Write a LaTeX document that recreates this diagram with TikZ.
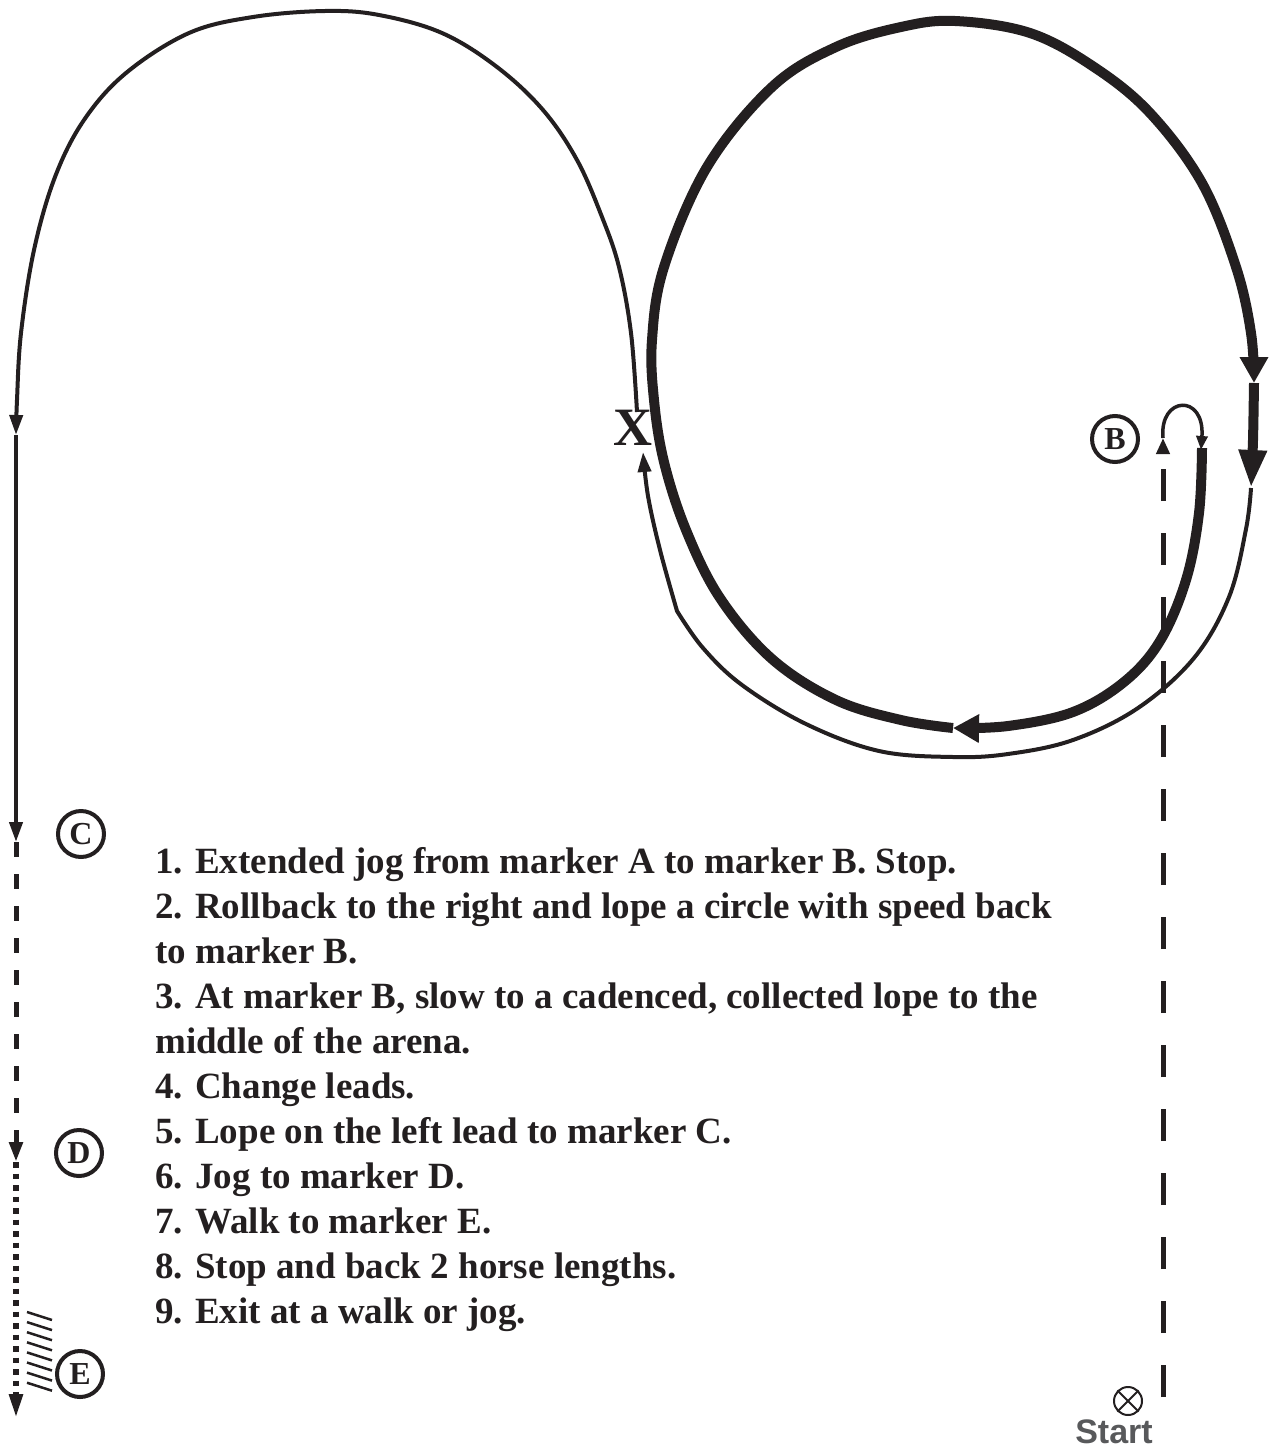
\documentclass[tikz,border=0pt]{standalone}
\usepackage{fontspec}
\setmainfont{Liberation Serif}
\setsansfont{Liberation Sans}
\usetikzlibrary{arrows.meta}
\definecolor{ink}{RGB}{35,31,32}
\definecolor{startgray}{RGB}{88,89,91}
\begin{document}
\begin{tikzpicture}[x=1pt,y=-1pt,
  thinpath/.style={draw=ink, line width=4pt, line join=round},
  thickpath/.style={draw=ink, line width=10pt, line join=round},
  smalltip/.style={-{Triangle[length=20pt,width=13pt]}},
  bigtip/.style={-{Triangle[length=26pt,width=27pt]}},
  longtip/.style={-{Triangle[length=38pt,width=26pt]}},
  markerring/.style={circle, draw=ink, line width=4pt, minimum size=46pt, inner sep=0pt, text=ink, font=\fontsize{32}{32}\selectfont\bfseries},
  stepline/.style={anchor=base west, inner sep=0pt, text=ink, font=\fontsize{37}{45}\selectfont\bfseries}
]
\useasboundingbox (0,0) rectangle (1274,1448);

% ---- markers and labels
\node[markerring] (B) at (1115,439) {B};
\node[markerring] (C) at (81,834) {C};
\node[markerring] (D) at (79,1153) {D};
\node[markerring] (E) at (80,1374) {E};
\node[font=\fontsize{54}{54}\selectfont\bfseries, text=ink, inner sep=0pt] (X) at (633,428) {X};

% ---- named points
\coordinate (startend) at (1163,1397);
\coordinate (rbA) at (1163,438);
\coordinate (rbB) at (1201,450);
\coordinate (xtop) at (637,412);
\coordinate (xbot) at (643,452);
\coordinate (turnL) at (16,435);
\coordinate (atC) at (16,842);
\coordinate (atD) at (16,1162);
\coordinate (atE) at (16,1418);

% ---- 1. extended jog from start to B (dashed)
\draw[draw=ink, line width=5pt, dash pattern=on 32pt off 32pt,
      -{Triangle[length=16pt,width=13pt]}] (startend) -- (rbA);

% ---- 2. rollback
\draw[thinpath, line width=3.5pt, -{Triangle[length=14pt,width=11pt]}]
  (rbA) .. controls (1159,396) and (1205,393) .. (rbB);

% ---- lope circle with speed (thick)
\draw[thickpath, bigtip] plot[smooth, tension=0.6] coordinates {
  (1202,448) (1199,513) (1186,580) (1160,641) (1124,682) (1073,712) (1008,726) (953,728)};
\draw[thickpath, bigtip] plot[smooth, tension=0.6] coordinates {
  (953,728) (901,720) (836,700) (772,659) (720,598) (686,530) (664,462) (654,400)
  (652,340) (664,267) (707,167) (772,87) (836,47) (901,27) (955,21) (1030,33)
  (1094,67) (1150,113) (1202,183) (1236,267) (1251,333) (1254,383)};
\draw[thickpath, longtip] plot[smooth] coordinates {(1254,383) (1253,440) (1251,488)};

% ---- 3. collected lope to the middle (X)
\draw[thinpath, smalltip] plot[smooth, tension=0.6] coordinates {
  (1251,488) (1246,529) (1229,597) (1194,658) (1138,708) (1073,740) (1008,754)
  (953,757) (879,751) (806,724) (742,685) (703,648) (677,611)}
  -- plot[smooth, tension=0.6] coordinates {(677,611) (660,550) (648,496) (xbot)};

% ---- 5. left lead to C
\draw[thinpath, smalltip] plot[smooth, tension=0.6] coordinates {
  (xtop) (631,333) (619,267) (602,217) (577,160) (543,110) (497,67) (442,33)
  (379,15) (325,11) (253,17) (189,33) (126,73) (84,120) (55,177) (34,250)
  (21,333) (17,400) (turnL)};
\draw[thinpath, smalltip] (turnL) -- (atC);

% ---- 6. jog to D (dashed)
\draw[draw=ink, line width=5pt, dash pattern=on 15pt off 17pt, smalltip] (atC) -- (atD);

% ---- 7. walk to E (dotted)
\draw[draw=ink, line width=5.5pt, dash pattern=on 5.5pt off 6pt, -{Triangle[length=24pt,width=13pt]}] (atD) -- (atE);

% ---- 8. back up (hatching)
\foreach \k in {0,...,7}
  \draw[draw=ink, line width=2.5pt] (27,1312+10.1*\k) -- (52,1320+10.1*\k);

% ---- start symbol
\node[circle, draw=ink, line width=2pt, minimum size=28pt, inner sep=0pt] (startsym) at (1128,1401) {};
\draw[draw=ink, line width=2pt] (startsym.north east) -- (startsym.south west)
  (startsym.north west) -- (startsym.south east);
\node[font=\sffamily\bfseries\fontsize{34}{34}\selectfont, text=startgray, inner sep=0pt] (startlbl) at (1114,1432) {Start};

% ---- pattern text
\node[stepline] (s1) at (155,873) {1. Extended jog from marker A to marker B. Stop.};
\node[stepline] (s2) at (155,918) {2. Rollback to the right and lope a circle with speed back};
\node[stepline] (s3) at (155,963) {to marker B.};
\node[stepline] (s4) at (155,1008) {3. At marker B, slow to a cadenced, collected lope to the};
\node[stepline] (s5) at (155,1053) {middle of the arena.};
\node[stepline] (s6) at (155,1098) {4. Change leads.};
\node[stepline] (s7) at (155,1143) {5. Lope on the left lead to marker C.};
\node[stepline] (s8) at (155,1188) {6. Jog to marker D.};
\node[stepline] (s9) at (155,1233) {7. Walk to marker E.};
\node[stepline] (s10) at (155,1278) {8. Stop and back 2 horse lengths.};
\node[stepline] (s11) at (155,1323) {9. Exit at a walk or jog.};
\end{tikzpicture}
\end{document}
